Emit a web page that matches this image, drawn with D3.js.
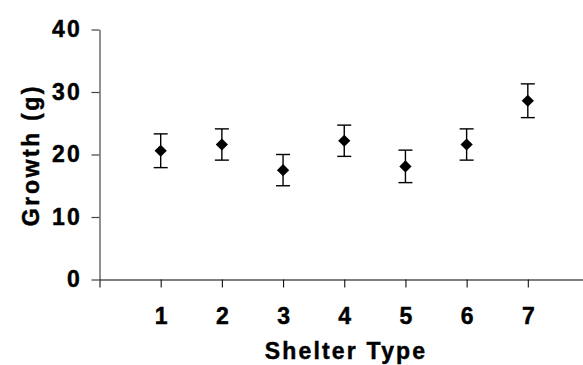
<!DOCTYPE html>
<html>
<head>
<meta charset="utf-8">
<script src="https://cdn.jsdelivr.net/npm/d3@7"></script>
<style>
  html, body { margin: 0; padding: 0; background: #fff; }
  svg { display: block; }
  text { font-family: "Liberation Sans", Arial, sans-serif; font-weight: bold; fill: #000; stroke: #000; stroke-width: 0.45px; }
</style>
</head>
<body>
<svg id="chart" width="583" height="365"></svg>
<script>
// Mean growth per shelter type, with the half-width of each error bar
const shelterTypes = [1, 2, 3, 4, 5, 6, 7];
const growthMeans = [20.6, 21.6, 17.5, 22.2, 18.1, 21.6, 28.6];
const growthErrors = [2.7, 2.5, 2.5, 2.5, 2.6, 2.5, 2.7];
const yTickValues = [0, 10, 20, 30, 40];
const xTickValues = [0, 1, 2, 3, 4, 5, 6, 7];

const svg = d3.select("#chart");
const letterSpacing = 2.2;
const fontSize = 23;

const x = d3.scaleLinear().domain([0, 8]).range([99.5, 589]);
const y = d3.scaleLinear().domain([0, 40]).range([279.5, 29.5]);

// Y axis
const yAxis = svg.append("g")
  .attr("transform", `translate(${x(0)},0)`)
  .call(d3.axisLeft(y).tickValues(yTickValues).tickSize(8).tickSizeOuter(0).tickPadding(9.5));
yAxis.select(".domain").attr("stroke", "#222").attr("stroke-width", 1);
yAxis.selectAll(".tick line").attr("stroke", "#444").attr("stroke-width", 1.2);
yAxis.selectAll(".tick text")
  .attr("font-size", fontSize)
  .attr("letter-spacing", letterSpacing)
  .attr("font-family", null)
  .attr("fill", "#000");

// X axis
const xAxis = svg.append("g")
  .attr("transform", `translate(0,${y(0)})`)
  .call(d3.axisBottom(x).tickValues(xTickValues).tickSize(8).tickSizeOuter(0).tickPadding(19.8)
    .tickFormat(d => d === 0 ? "" : d3.format("d")(d)));
xAxis.select(".domain").attr("stroke", "#7f7f7f").attr("stroke-width", 1.8);
xAxis.selectAll(".tick line").attr("stroke", "#111").attr("stroke-width", 1.1);
xAxis.selectAll(".tick text")
  .attr("font-size", fontSize)
  .attr("letter-spacing", letterSpacing)
  .attr("dx", letterSpacing / 2)
  .attr("font-family", null)
  .attr("fill", "#000");
svg.selectAll(".domain").attr("fill", "none");
yAxis.raise();

// Axis titles
svg.append("text")
  .attr("x", 346)
  .attr("y", 359)
  .attr("text-anchor", "middle")
  .attr("font-size", fontSize)
  .attr("letter-spacing", letterSpacing)
  .text("Shelter Type");

svg.append("text")
  .attr("transform", "translate(39,155) rotate(-90)")
  .attr("text-anchor", "middle")
  .attr("font-size", fontSize)
  .attr("letter-spacing", letterSpacing + 0.4)
  .text("Growth (g)");

// Error bars and mean markers
const data = shelterTypes.map((t, i) => ({ t, mean: growthMeans[i], err: growthErrors[i] }));
const capHalf = 7;

const groups = svg.append("g").selectAll("g").data(data).join("g");

groups.append("line")
  .attr("x1", d => x(d.t)).attr("x2", d => x(d.t))
  .attr("y1", d => y(d.mean + d.err)).attr("y2", d => y(d.mean - d.err))
  .attr("stroke", "#000").attr("stroke-width", 1.4);

groups.append("line")
  .attr("x1", d => x(d.t) - capHalf).attr("x2", d => x(d.t) + capHalf)
  .attr("y1", d => y(d.mean + d.err)).attr("y2", d => y(d.mean + d.err))
  .attr("stroke", "#000").attr("stroke-width", 1.4);

groups.append("line")
  .attr("x1", d => x(d.t) - capHalf).attr("x2", d => x(d.t) + capHalf)
  .attr("y1", d => y(d.mean - d.err)).attr("y2", d => y(d.mean - d.err))
  .attr("stroke", "#000").attr("stroke-width", 1.4);

groups.append("path")
  .attr("d", d3.symbol(d3.symbolSquare, 75))
  .attr("transform", d => `translate(${x(d.t)},${y(d.mean)}) rotate(45)`)
  .attr("fill", "#000");
</script>
</body>
</html>
